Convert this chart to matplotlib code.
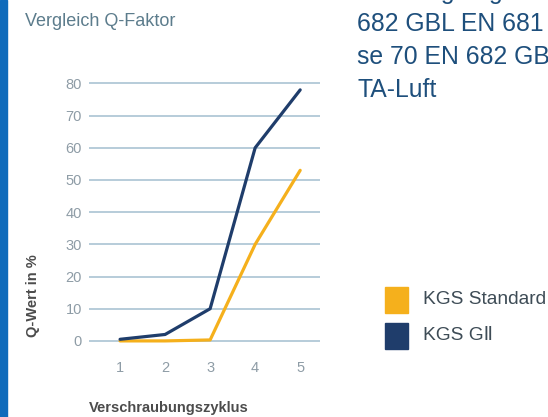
import matplotlib.pyplot as plt
from matplotlib.patches import Rectangle

plt.rcParams['font.family'] = ['Liberation Sans', 'DejaVu Sans']

zyklus = [1, 2, 3, 4, 5]
kgs_standard = [0, 0, 0.3, 30, 53]
kgs_g2 = [0.5, 2, 10, 60, 78]
yticks = [0, 10, 20, 30, 40, 50, 60, 70, 80]

orange = '#f5b01c'
navy = '#1f3d6b'

fig = plt.figure(figsize=(5.48, 4.17), dpi=100)
fig.patch.set_facecolor('white')

# blauer Rand links
fig.patches.append(Rectangle((0, 0), 7 / 548, 1, transform=fig.transFigure,
                             color='#0f6bbb', zorder=0))

ax = fig.add_axes([89 / 548, 60 / 417, 231 / 548, 280 / 417])
ax.set_xlim(0.31, 5.44)
ax.set_ylim(-5, 82)
for y in yticks:
    ax.axhline(y, color='#aac3d3', lw=1.2, zorder=1)

ax.plot(zyklus, kgs_standard, color=orange, lw=2.3, zorder=3, solid_capstyle='round')
ax.plot(zyklus, kgs_g2, color=navy, lw=2.3, zorder=4, solid_capstyle='round')

for s in ax.spines.values():
    s.set_visible(False)
ax.set_xticks(zyklus)
ax.set_yticks(yticks)
ax.tick_params(length=0, labelsize=10.5, labelcolor='#8e9ca6')
ax.tick_params(axis='y', pad=5)
ax.tick_params(axis='x', pad=3)

fig.text(25 / 548, 1 - 22 / 417, 'Vergleich Q-Faktor', fontsize=13,
         color='#5c7c8c', ha='left', va='center')
fig.text(33 / 548, 1 - 296 / 417, 'Q-Wert in %', rotation=90, fontsize=10.5,
         fontweight='bold', color='#4c4c4c', ha='center', va='center')
fig.text(169 / 548, 1 - 408 / 417, 'Verschraubungszyklus', fontsize=10.5,
         fontweight='bold', color='#4c4c4c', ha='center', va='center')

# Legende
fig.patches.append(Rectangle((385 / 548, 1 - 313 / 417), 23 / 548, 26 / 417,
                             transform=fig.transFigure, color=orange))
fig.patches.append(Rectangle((385 / 548, 1 - 349 / 417), 23 / 548, 26 / 417,
                             transform=fig.transFigure, color=navy))
fig.text(423 / 548, 1 - 300 / 417, 'KGS Standard', fontsize=13.8,
         color='#3e4c56', ha='left', va='center')
fig.text(423 / 548, 1 - 336 / 417, 'KGS G\u2161', fontsize=13.8,
         color='#3e4c56', ha='left', va='center')

# Fliesstext rechts oben (abgeschnitten)
rtext = ['Dichtungen gemäß DIN EN', '682 GBL EN 681', 'se 70 EN 682 GBL', 'TA-Luft']
for i, t in enumerate(rtext):
    fig.text(357 / 548, 1 - (-1.5 + 32.8 * i) / 417, t, fontsize=17.8,
             color='#1e4f7c', ha='left', va='baseline')

fig.savefig('out.png', dpi=100)
